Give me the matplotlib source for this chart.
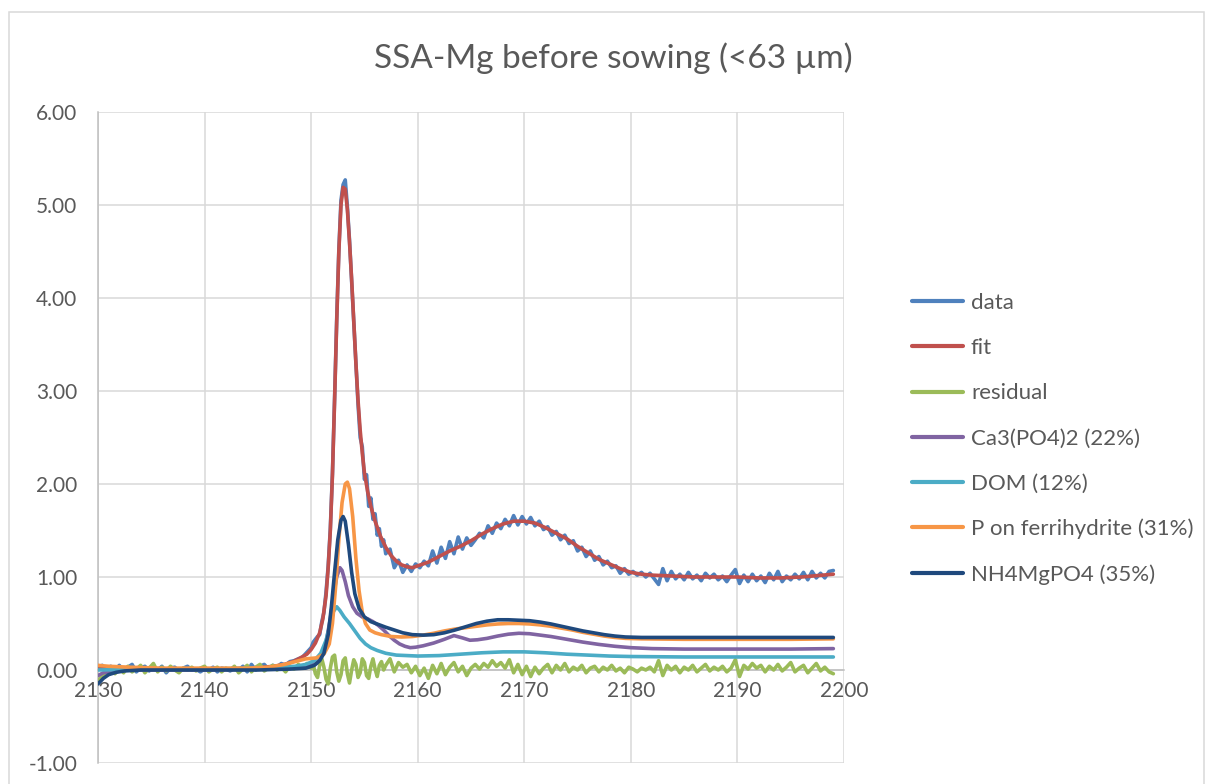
import numpy as np
import matplotlib
matplotlib.use('Agg')
import matplotlib.pyplot as plt
from matplotlib.patches import Rectangle
from matplotlib.ticker import FormatStrFormatter

plt.rcParams['font.family'] = ['Lato', 'DejaVu Sans']

# energy grid of the measured spectrum (eV), finer around the white line
energy = np.concatenate([np.linspace(2130.0, 2149.6, 50),
                         np.linspace(2150.0, 2156.8, 35),
                         np.linspace(2157.0, 2199.0, 106)])

data = [
    0.02, 0.05, -0.02, 0.04, 0.00, 0.05, -0.01, 0.03, 0.06, -0.02,
    0.02, 0.04, -0.01, 0.03, 0.00, 0.04, -0.03, 0.02, 0.03, -0.01,
    0.02, 0.04, 0.00, 0.01, -0.02, 0.01, 0.00, 0.03, -0.02, 0.02,
    0.01, -0.01, 0.02, 0.00, 0.04, -0.02, 0.06, 0.00, 0.04, 0.06,
    0.01, 0.05, 0.03, 0.07, 0.05, 0.09, 0.10, 0.12, 0.14, 0.19,
    # 2150.0 - 2156.8
    0.24, 0.30, 0.33, 0.36, 0.38, 0.52, 0.62, 0.84, 1.12, 1.52,
    2.12, 2.92, 3.78, 4.52, 5.05, 5.22, 5.27, 4.98, 4.62, 4.18,
    3.73, 3.28, 2.86, 2.50, 2.40, 2.05, 2.10, 1.76, 1.85, 1.62,
    1.68, 1.45, 1.52, 1.33, 1.40,
    # 2157.0 - 2199.0
    1.25, 1.30, 1.10, 1.18, 1.05, 1.13, 1.06, 1.14, 1.10, 1.17,
    1.12, 1.28, 1.15, 1.32, 1.20, 1.38, 1.25, 1.43, 1.30, 1.42,
    1.34, 1.40, 1.47, 1.42, 1.55, 1.47, 1.58, 1.52, 1.62, 1.55,
    1.66, 1.56, 1.65, 1.57, 1.64, 1.55, 1.60, 1.51, 1.54, 1.45,
    1.49, 1.40, 1.45, 1.36, 1.39, 1.28, 1.32, 1.22, 1.28, 1.18,
    1.22, 1.13, 1.17, 1.10, 1.12, 1.04, 1.09, 1.03, 1.06, 1.02,
    1.05, 1.00, 1.04, 0.98, 0.92, 1.09, 0.96, 1.06, 0.98, 1.03,
    0.97, 1.05, 0.98, 1.02, 0.96, 1.04, 0.99, 1.03, 0.97, 1.01,
    0.95, 1.02, 1.08, 0.93, 1.02, 0.95, 1.03, 0.96, 1.01, 0.94,
    1.04, 0.97, 1.06, 0.95, 1.01, 0.97, 1.03, 0.98, 1.05, 0.97,
    1.06, 0.99, 1.04, 0.99, 1.06, 1.07,
]

residual = [
    -0.12, -0.06, -0.02, 0.03, -0.04, 0.02, -0.03, 0.04, -0.02, 0.01,
    0.05, -0.03, 0.02, 0.07, -0.02, 0.03, -0.01, 0.04, 0.00, -0.03,
    0.02, 0.00, 0.03, -0.01, 0.02, 0.04, -0.02, 0.01, 0.03, -0.02,
    0.02, 0.00, 0.04, -0.03, 0.01, 0.05, -0.02, 0.03, 0.06, -0.01,
    0.02, 0.05, 0.00, 0.03, -0.02, 0.04, 0.01, 0.06, 0.02, 0.07,
    # 2150.0 - 2156.8
    0.02, 0.06, -0.04, -0.08, 0.05, 0.12, 0.03, -0.10, -0.15, 0.02,
    0.14, 0.16, -0.02, -0.12, -0.05, 0.10, 0.13, -0.04, -0.14, 0.00,
    0.11, 0.06, -0.08, -0.03, 0.12, 0.08, -0.06, -0.09, 0.04, 0.12,
    0.01, -0.07, 0.05, 0.09, 0.00,
    # 2157.0 - 2199.0
    0.05, 0.12, -0.02, 0.08, 0.03, 0.06, -0.03, 0.04, -0.06, 0.02,
    -0.09, 0.05, -0.04, 0.07, -0.05, 0.03, 0.08, -0.02, 0.04, -0.06,
    0.02, 0.06, 0.01, 0.07, 0.03, 0.10, 0.04, 0.08, 0.02, 0.11,
    -0.03, 0.06, -0.05, 0.04, -0.07, 0.03, -0.04, 0.02, 0.06, -0.03,
    0.05, 0.00, 0.07, -0.02, 0.03, 0.00, 0.05, -0.03, 0.02, 0.04,
    -0.02, 0.03, 0.00, 0.05, -0.01, 0.02, -0.03, 0.03, 0.01, -0.02,
    0.02, 0.00, 0.03, -0.02, 0.10, -0.06, 0.05, 0.00, 0.04, -0.03,
    0.03, 0.00, 0.05, -0.02, 0.02, 0.06, -0.01, 0.03, 0.00, 0.04,
    -0.02, 0.02, 0.11, -0.07, 0.05, 0.01, 0.07, 0.02, 0.05, -0.02,
    0.04, 0.00, 0.06, -0.01, 0.03, 0.08, -0.02, 0.02, 0.05, -0.03,
    0.02, 0.07, -0.01, 0.03, -0.02, -0.04,
]

fit_e = [2130, 2132, 2134, 2136, 2138, 2140, 2142, 2144, 2145.5, 2146.5,
         2147.5, 2148.3, 2149.0, 2149.6, 2150.0, 2150.4, 2150.8, 2151.1, 2151.4, 2151.6,
         2151.8, 2152.0, 2152.2, 2152.4, 2152.6, 2152.8, 2153.0, 2153.2, 2153.4, 2153.6,
         2153.8, 2154.0, 2154.2, 2154.4, 2154.6, 2154.8, 2155.0, 2155.3, 2155.6, 2156.0,
         2156.5, 2157.0, 2157.5, 2158.0, 2158.5, 2159.0, 2159.5, 2160.0, 2160.5, 2161,
         2162, 2163, 2164, 2165, 2166, 2167, 2168, 2169, 2170, 2171,
         2172, 2173, 2174, 2175, 2176, 2177, 2178, 2179, 2180, 2181,
         2182, 2184, 2186, 2188, 2190, 2192, 2194, 2196, 2198, 2199]
fit = [0.01, 0.01, 0.01, 0.01, 0.01, 0.01, 0.01, 0.02, 0.03, 0.04,
       0.06, 0.09, 0.13, 0.17, 0.22, 0.29, 0.40, 0.55, 0.80, 1.10,
       1.50, 2.10, 2.90, 3.75, 4.50, 5.00, 5.19, 5.17, 4.95, 4.60,
       4.20, 3.75, 3.30, 2.90, 2.58, 2.33, 2.12, 1.92, 1.76, 1.60,
       1.44, 1.32, 1.23, 1.17, 1.13, 1.11, 1.10, 1.12, 1.14, 1.16,
       1.22, 1.28, 1.33, 1.39, 1.46, 1.52, 1.57, 1.60, 1.60, 1.58,
       1.53, 1.47, 1.41, 1.33, 1.26, 1.19, 1.14, 1.09, 1.05, 1.03,
       1.02, 1.01, 1.00, 1.00, 1.00, 0.99, 0.99, 1.00, 1.02, 1.03]

ca3_e = [2130, 2130.5, 2131.5, 2133, 2140, 2146, 2148, 2149.5, 2150.5, 2151.0,
         2151.4, 2151.8, 2152.1, 2152.4, 2152.7, 2152.9, 2153.2, 2153.5, 2153.9, 2154.3,
         2154.8, 2155.3, 2155.8, 2156.3, 2156.8, 2157.3, 2157.8, 2158.3, 2158.8, 2159.3,
         2159.8, 2160.5, 2161.5, 2162.5, 2163.4, 2164.2, 2164.9, 2165.6, 2166.5, 2167.5,
         2168.5, 2169.5, 2170.5, 2171.5, 2172.5, 2174, 2175.5, 2177, 2178.5, 2180,
         2182, 2185, 2190, 2195, 2199]
ca3 = [-0.06, -0.03, -0.01, 0.00, 0.00, 0.01, 0.02, 0.03, 0.07, 0.15,
       0.30, 0.55, 0.80, 1.00, 1.10, 1.07, 0.95, 0.80, 0.68, 0.61,
       0.57, 0.55, 0.52, 0.48, 0.43, 0.37, 0.32, 0.28, 0.255, 0.24,
       0.245, 0.26, 0.29, 0.33, 0.37, 0.345, 0.32, 0.325, 0.34, 0.365,
       0.385, 0.395, 0.39, 0.375, 0.36, 0.33, 0.30, 0.275, 0.255, 0.24,
       0.23, 0.225, 0.225, 0.225, 0.23]

dom_e = [2130, 2135, 2140, 2145, 2147, 2148.5, 2149.5, 2150.3, 2150.9, 2151.4,
         2151.8, 2152.1, 2152.4, 2152.7, 2153.1, 2153.6, 2154.1, 2154.6, 2155.1, 2155.6,
         2156.2, 2157, 2158, 2159, 2160, 2162, 2164, 2166, 2168, 2170,
         2172, 2174, 2176, 2178, 2180, 2185, 2190, 2195, 2199]
dom = [0.00, 0.01, 0.01, 0.02, 0.03, 0.04, 0.06, 0.10, 0.18, 0.32,
       0.50, 0.63, 0.68, 0.64, 0.57, 0.50, 0.42, 0.34, 0.28, 0.24,
       0.21, 0.18, 0.16, 0.155, 0.15, 0.155, 0.17, 0.185, 0.195, 0.195,
       0.185, 0.17, 0.16, 0.15, 0.145, 0.14, 0.14, 0.14, 0.14]

pferri_e = [2130, 2131, 2133, 2136, 2140, 2144, 2146, 2147.5, 2148.5, 2149.5,
            2150.5, 2151.2, 2151.7, 2152.0, 2152.3, 2152.6, 2152.9, 2153.2, 2153.4, 2153.6,
            2153.9, 2154.2, 2154.5, 2154.8, 2155.1, 2155.5, 2156.0, 2156.6, 2157.5, 2158.5,
            2159.5, 2160.5, 2161.5, 2162.5, 2163.5, 2164.5, 2165.5, 2166.5, 2167.5, 2168.5,
            2169.5, 2170.5, 2171.5, 2172.5, 2173.5, 2174.5, 2175.5, 2176.5, 2177.5, 2178.5,
            2179.5, 2181, 2185, 2190, 2195, 2199]
pferri = [0.05, 0.04, 0.03, 0.02, 0.02, 0.02, 0.03, 0.06, 0.09, 0.12,
          0.13, 0.17, 0.28, 0.50, 0.90, 1.40, 1.80, 2.00, 2.02, 1.95,
          1.65, 1.20, 0.85, 0.62, 0.50, 0.43, 0.40, 0.38, 0.36, 0.355,
          0.36, 0.375, 0.395, 0.42, 0.44, 0.455, 0.47, 0.485, 0.495, 0.50,
          0.50, 0.495, 0.485, 0.47, 0.45, 0.43, 0.405, 0.385, 0.365, 0.35,
          0.34, 0.335, 0.33, 0.33, 0.33, 0.335]

nh4_e = [2130, 2130.5, 2131, 2131.7, 2132.5, 2134, 2140, 2145, 2148, 2149.5,
         2150.3, 2150.8, 2151.2, 2151.6, 2151.9, 2152.2, 2152.5, 2152.8, 2153.0, 2153.2,
         2153.5, 2153.8, 2154.1, 2154.5, 2155.0, 2155.6, 2156.3, 2157.0, 2157.8, 2158.6,
         2159.5, 2160.5, 2161.5, 2162.5, 2163.5, 2164.5, 2165.5, 2166.5, 2167.5, 2168.5,
         2169.5, 2170.5, 2171.5, 2172.5, 2173.5, 2174.5, 2175.5, 2176.5, 2177.5, 2178.5,
         2179.5, 2181, 2185, 2190, 2195, 2199]
nh4 = [-0.15, -0.09, -0.05, -0.025, -0.01, 0.00, 0.00, 0.00, 0.01, 0.02,
       0.05, 0.10, 0.18, 0.38, 0.68, 1.05, 1.40, 1.61, 1.65, 1.60,
       1.35, 1.05, 0.82, 0.66, 0.57, 0.52, 0.49, 0.46, 0.43, 0.40,
       0.38, 0.375, 0.38, 0.40, 0.43, 0.465, 0.50, 0.525, 0.54, 0.54,
       0.535, 0.53, 0.515, 0.495, 0.47, 0.445, 0.42, 0.40, 0.38, 0.365,
       0.355, 0.35, 0.35, 0.35, 0.35, 0.35]

series = [
    (energy, data, 'data', '#4F81BD'),
    (fit_e, fit, 'fit', '#C0504D'),
    (energy, residual, 'residual', '#9BBB59'),
    (ca3_e, ca3, 'Ca3(PO4)2 (22%)', '#8064A2'),
    (dom_e, dom, 'DOM (12%)', '#4BACC6'),
    (pferri_e, pferri, 'P on ferrihydrite (31%)', '#F79646'),
    (nh4_e, nh4, 'NH4MgPO4 (35%)', '#1F497D'),
]

W, H = 1208, 784
fig = plt.figure(figsize=(W / 100, H / 100), dpi=100)
ax = fig.add_axes([98 / W, 1 - 763 / H, (844 - 98) / W, (763 - 112) / H])

for i, (xs, ys, name, col) in enumerate(series):
    ax.plot(xs, ys, color=col, lw=2.6, label=name, zorder=3 + i,
            solid_joinstyle='round', solid_capstyle='round')

ax.set_xlim(2130, 2200)
ax.set_ylim(-1, 6)
ax.set_xticks(np.arange(2130, 2201, 10))
ax.set_yticks(np.arange(-1, 7, 1))
ax.yaxis.set_major_formatter(FormatStrFormatter('%.2f'))
ax.grid(True, color='#d9d9d9', lw=1.1)
ax.set_axisbelow(True)

for s in ['top', 'right']:
    ax.spines[s].set_visible(False)
ax.spines['bottom'].set_position(('data', 0))
ax.spines['bottom'].set_color('#bfbfbf')
ax.spines['left'].set_color('#bfbfbf')
ax.spines['bottom'].set_linewidth(1.1)
ax.spines['left'].set_linewidth(1.1)
ax.tick_params(axis='both', length=0, labelsize=15, labelcolor='#595959')
ax.tick_params(axis='x', pad=8)
ax.tick_params(axis='y', pad=15)

leg = ax.legend(loc='center left', bbox_to_anchor=(912 / W, 1 - 439 / H),
                bbox_transform=fig.transFigure, frameon=False, fontsize=16,
                handlelength=2.3, handletextpad=0.35, labelspacing=1.13,
                borderpad=0, borderaxespad=0)
for t in leg.get_texts():
    t.set_color('#595959')
for h in leg.get_lines():
    h.set_linewidth(3)

fig.text(613 / W, 1 - 58 / H, 'SSA-Mg before sowing (<63 µm)', ha='center', va='center',
         fontsize=24, color='#595959')

# chart-area border
fig.patches.append(Rectangle((8.5 / W, -0.02), (1204 - 8.5) / W, 1.02 - 12.5 / H,
                             transform=fig.transFigure, fill=False,
                             edgecolor='#d9d9d9', lw=1.1))

fig.savefig('out.png', dpi=100)
